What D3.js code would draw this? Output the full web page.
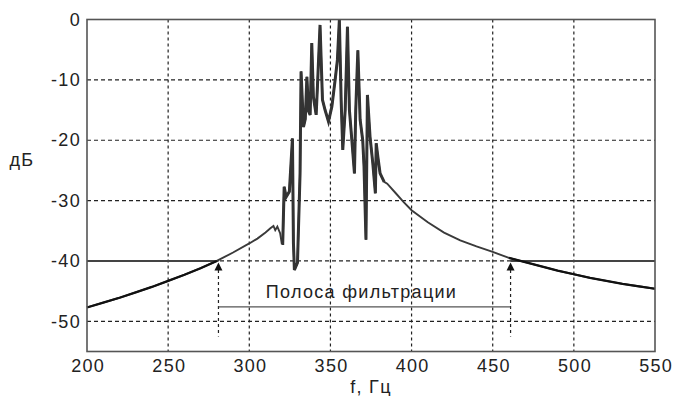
<!DOCTYPE html>
<html>
<head>
<meta charset="utf-8">
<script src="https://d3js.org/d3.v7.min.js"></script>
<style>
  body { margin: 0; background: #fff; }
  text { font-family: "Liberation Sans", Arial, sans-serif; }
</style>
</head>
<body>
<div id="chart"></div>
<script>
// spectrum readings: frequency (Hz) and level (dB)
const freqs = [200,210,220,230,240,250,260,270,280,290,300,305,310,313,314.9,316,317.3,319,320,320.6,
  321.5,322.7,324.7,326.6,327.2,327.8,329.7,331.3,331.9,333.4,334.5,335.5,336.5,337.5,338.5,339.5,
  341.2,342,343.6,345.1,346.7,348.8,350.9,352.9,354.3,355.5,356.6,357.6,359.1,360.5,361.7,363.2,
  364.8,365.6,366.9,368.3,369.9,370.7,371.9,372.8,374.4,376.1,377.7,378.2,379.2,380.6,383.1,385,
  390,395,400,410,420,430,440,450,460,470,480,490,500,510,520,530,540,550];
const levels = [-47.7,-46.9,-46.1,-45.2,-44.3,-43.3,-42.3,-41.2,-40.0,-38.6,-37.1,-36.3,-35.3,-34.6,-34.2,-34.9,-34.3,-35.4,-37.1,-37.1,
  -27.7,-29.4,-28.5,-19.7,-37,-41.5,-40.3,-25.4,-8.6,-17.8,-16.5,-9.5,-15.2,-15.8,-3.9,-12.8,
  -15.8,-11.1,-0.9,-13.3,-15.0,-16.9,-14.4,-10.0,-6.7,0,-13.3,-21.6,-15.0,-1.2,-15.0,-20.0,
  -25.5,-15.0,-5.1,-16.6,-20.0,-24.4,-36.5,-12.5,-19.4,-23.8,-28.8,-20.5,-22.7,-25.5,-26.9,-27.2,
  -28.7,-30.2,-31.6,-33.6,-35.3,-36.6,-37.6,-38.5,-39.5,-40.2,-40.9,-41.6,-42.2,-42.8,-43.3,-43.8,-44.2,-44.6];

const xTicks = [200,250,300,350,400,450,500,550];
const yTicks = [0,-10,-20,-30,-40,-50];
const threshold = -40;
const band = [281, 461];
const bandLabel = "Полоса фильтрации";

const W = 673, H = 396;
const m = {left: 87, right: 18, top: 19.5, bottom: 44.5};
const fs = 18, ls = 1.3;

const svg = d3.select("#chart").append("svg")
  .attr("width", W).attr("height", H);

const x = d3.scaleLinear().domain([200, 550]).range([m.left, W - m.right]);
const y = d3.scaleLinear().domain([-55, 0]).range([H - m.bottom, m.top]);

const data = freqs.map((f, i) => [f, levels[i]]);

// grid
svg.append("g").selectAll("line")
  .data(xTicks.slice(1, -1))
  .join("line")
  .attr("x1", d => x(d)).attr("x2", d => x(d))
  .attr("y1", y(0)).attr("y2", y(-55))
  .attr("stroke", "#222").attr("stroke-width", 1.2)
  .attr("stroke-dasharray", "3,3");

svg.append("g").selectAll("line")
  .data(yTicks.slice(1))
  .join("line")
  .attr("x1", x(200)).attr("x2", x(550))
  .attr("y1", d => y(d)).attr("y2", d => y(d))
  .attr("stroke", "#222").attr("stroke-width", 1.2)
  .attr("stroke-dasharray", "4,3");

// threshold line outside the band
[[200, band[0]], [band[1], 550]].forEach(r => {
  svg.append("line")
    .attr("x1", x(r[0])).attr("x2", x(r[1]))
    .attr("y1", y(threshold)).attr("y2", y(threshold))
    .attr("stroke", "#444").attr("stroke-width", 2);
});

// band markers
band.forEach(f => {
  svg.append("line")
    .attr("x1", x(f)).attr("x2", x(f))
    .attr("y1", y(-41.5)).attr("y2", y(-52.5))
    .attr("stroke", "#222").attr("stroke-width", 1.2)
    .attr("stroke-dasharray", "3,3");
  const tx = x(f), ty = y(threshold) + 1.5;
  svg.append("path")
    .attr("d", `M${tx},${ty} L${tx - 4},${ty + 8} L${tx + 4},${ty + 8} Z`)
    .attr("fill", "#111");
});

svg.append("line")
  .attr("x1", x(band[0])).attr("x2", x(band[1]))
  .attr("y1", y(-47.6)).attr("y2", y(-47.6))
  .attr("stroke", "#555").attr("stroke-width", 1.2);

svg.append("text")
  .attr("x", x((band[0] + band[1]) / 2) - 3)
  .attr("y", y(-46.1))
  .attr("text-anchor", "middle")
  .attr("font-size", fs).attr("letter-spacing", ls).attr("fill", "#222")
  .text(bandLabel);

// spectrum
const line = d3.line().x(d => x(d[0])).y(d => y(d[1]));

svg.append("path")
  .datum(data)
  .attr("d", line)
  .attr("fill", "none")
  .attr("stroke", "#3a3a3a")
  .attr("stroke-width", 1.9);

// heavier spiky middle
svg.append("path")
  .datum(data.filter(d => d[0] >= 320 && d[0] <= 383.1))
  .attr("d", line)
  .attr("fill", "none")
  .attr("stroke", "#333")
  .attr("stroke-width", 3);

// darker outside-band parts
svg.append("path")
  .datum(data.filter(d => d[0] <= band[0]))
  .attr("d", line)
  .attr("fill", "none").attr("stroke", "#111").attr("stroke-width", 2.2);
svg.append("path")
  .datum(data.filter(d => d[0] >= band[1] - 1))
  .attr("d", line)
  .attr("fill", "none").attr("stroke", "#111").attr("stroke-width", 2.2);

// frame
svg.append("rect")
  .attr("x", x(200)).attr("y", y(0))
  .attr("width", x(550) - x(200)).attr("height", y(-55) - y(0))
  .attr("fill", "none").attr("stroke", "#555").attr("stroke-width", 1.6);

// axes
const xAxis = svg.append("g")
  .attr("transform", `translate(${ls / 2},${y(-55)})`)
  .call(d3.axisBottom(x).tickValues(xTicks).tickFormat(d => String(d)).tickSize(0).tickPadding(8));
const yAxis = svg.append("g")
  .attr("transform", `translate(${x(200)},0)`)
  .call(d3.axisLeft(y).tickValues(yTicks).tickFormat(d => String(d)).tickSize(0).tickPadding(6));
[xAxis, yAxis].forEach(g => {
  g.select(".domain").remove();
  g.selectAll("text")
    .attr("font-size", fs).attr("letter-spacing", ls).attr("fill", "#222")
    .style("font-family", '"Liberation Sans", Arial, sans-serif');
});

svg.append("text")
  .attr("x", (x(200) + x(550)) / 2).attr("y", 393)
  .attr("text-anchor", "middle")
  .attr("font-size", fs).attr("letter-spacing", ls).attr("fill", "#222")
  .text("f, Гц");

svg.append("text")
  .attr("x", 22).attr("y", 166)
  .attr("text-anchor", "middle")
  .attr("font-size", fs).attr("letter-spacing", ls).attr("fill", "#222")
  .text("дБ");
</script>
</body>
</html>
